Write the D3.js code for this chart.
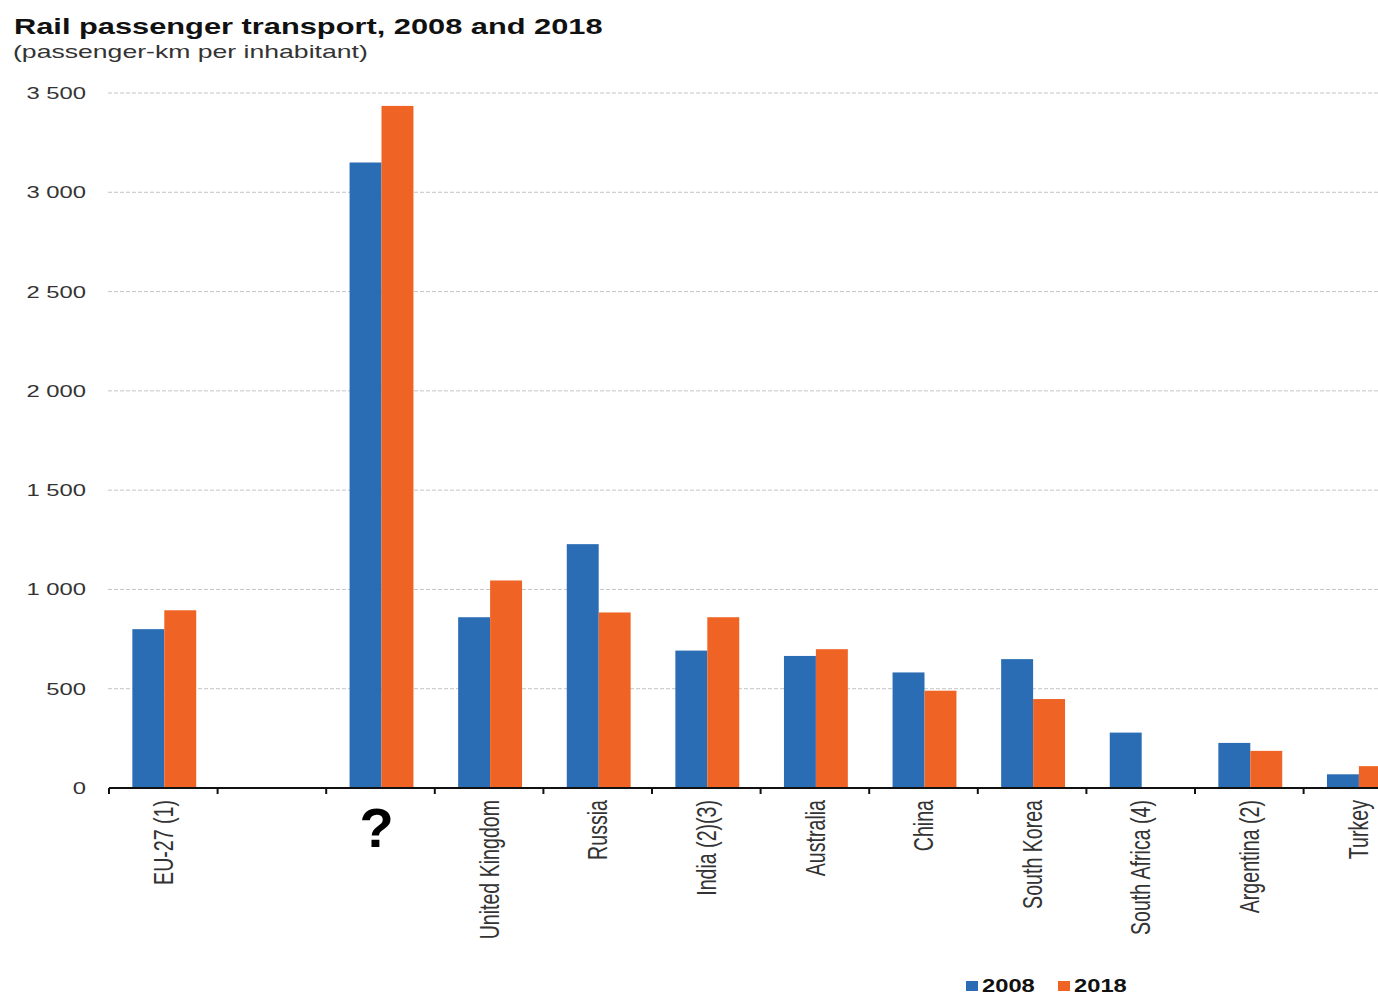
<!DOCTYPE html>
<html>
<head>
<meta charset="utf-8">
<script src="https://cdn.jsdelivr.net/npm/d3@7"></script>
<style>
    body { margin: 0; background: #fff; }
    text { font-family: "Liberation Sans", Arial, sans-serif; fill: #222; }
</style>
</head>
<body>
<div id="app"></div>
<script>
const categories = ["EU-27 (1)", "", "?", "United Kingdom", "Russia", "India (2)(3)", "Australia",
    "China", "South Korea", "South Africa (4)", "Argentina (2)", "Turkey"];
const series = ["2008", "2018"];
const values2008 = [800, null, 3150, 860, 1228, 692, 665, 582, 649, 279, 227, 69];
const values2018 = [895, null, 3435, 1045, 884, 860, 699, 490, 448, null, 187, 110];
const yTicks = [0, 500, 1000, 1500, 2000, 2500, 3000, 3500];
const colors = ["#2a6db4", "#ef6424"];

const W = 1378;
const H = 997;
const stretch = 1.4;

const plotLeft = 109;
const slotW = 108.6;
const plotRight = plotLeft + slotW * categories.length;
const plotTop = 93;
const plotBottom = 788;

const fmt = d3.formatLocale({ decimal: ".", thousands: " ", grouping: [3], currency: ["", ""] }).format(",");

function runApp() {
    const svg = d3.select("#app")
        .append("svg")
        .attr("width", W)
        .attr("height", H)
        .style("display", "block");

    const x0 = d3.scaleBand()
        .domain(categories)
        .range([plotLeft, plotRight])
        .padding(0);

    const x1 = d3.scaleBand()
        .domain(series)
        .range([1, x0.bandwidth() + 1])
        .paddingInner(0)
        .paddingOuter(0.7);

    const y = d3.scaleLinear()
        .domain([0, 3500])
        .range([plotBottom, plotTop]);

    //TITLE
    svg.append("text")
        .attr("transform", "translate(14,34) scale(" + stretch + ",1)")
        .style("font-size", "22px")
        .style("font-weight", "bold")
        .style("fill", "#111")
        .text("Rail passenger transport, 2008 and 2018");
    svg.append("text")
        .attr("transform", "translate(13,58) scale(" + stretch + ",1)")
        .style("font-size", "19px")
        .style("fill", "#333")
        .text("(passenger-km per inhabitant)");

    //GRID + Y LABELS
    svg.selectAll(".grid")
        .data(yTicks.filter(function (t) { return t > 0; }))
        .enter()
        .append("line")
        .attr("class", "grid")
        .attr("x1", plotLeft - 1)
        .attr("x2", W)
        .attr("y1", function (t) { return y(t); })
        .attr("y2", function (t) { return y(t); })
        .style("stroke", "#c4c4c4")
        .style("stroke-width", 1)
        .style("stroke-dasharray", "4,2");

    svg.selectAll(".ylab")
        .data(yTicks)
        .enter()
        .append("text")
        .attr("class", "ylab")
        .attr("transform", function (t) {
            return "translate(86," + y(t) + ") scale(" + stretch + ",1)";
        })
        .attr("dy", "0.35em")
        .attr("text-anchor", "end")
        .style("font-size", "17px")
        .style("fill", "#333")
        .text(function (t) { return fmt(t); });

    //BARS
    const groups = svg.selectAll(".cat")
        .data(categories.map(function (c, i) {
            return { name: c, vals: [values2008[i], values2018[i]] };
        }))
        .enter()
        .append("g")
        .attr("class", "cat")
        .attr("transform", function (d) { return "translate(" + x0(d.name) + ",0)"; });

    groups.selectAll("rect")
        .data(function (d) {
            return series.map(function (s, j) { return { s: s, j: j, v: d.vals[j] }; })
                .filter(function (b) { return b.v != null; });
        })
        .enter()
        .append("rect")
        .attr("x", function (b) { return x1(b.s); })
        .attr("y", function (b) { return y(b.v); })
        .attr("width", x1.bandwidth())
        .attr("height", function (b) { return y(0) - y(b.v); })
        .style("fill", function (b) { return colors[b.j]; });

    //X AXIS
    svg.append("line")
        .attr("x1", plotLeft)
        .attr("x2", W)
        .attr("y1", plotBottom)
        .attr("y2", plotBottom)
        .style("stroke", "#111")
        .style("stroke-width", 2);

    svg.selectAll(".xtick")
        .data(categories.map(function (c) { return x0(c); }))
        .enter()
        .append("line")
        .attr("class", "xtick")
        .attr("x1", function (d) { return d; })
        .attr("x2", function (d) { return d; })
        .attr("y1", plotBottom)
        .attr("y2", plotBottom + 6)
        .style("stroke", "#111")
        .style("stroke-width", 2);

    svg.selectAll(".xlab")
        .data(categories.filter(function (c) { return c !== "" && c !== "?"; }))
        .enter()
        .append("text")
        .attr("class", "xlab")
        .attr("transform", function (c) {
            return "translate(" + (x0(c) + x0.bandwidth() / 2) + ",800) scale(" + stretch + ",1) rotate(-90)";
        })
        .attr("dy", "0.35em")
        .attr("text-anchor", "end")
        .style("font-size", "19.6px")
        .style("fill", "#333")
        .text(function (c) { return c; });

    svg.append("text")
        .attr("x", x0("?") + x0.bandwidth() / 2 - 4)
        .attr("y", 847)
        .attr("text-anchor", "middle")
        .style("font-size", "56px")
        .style("font-weight", "bold")
        .style("fill", "#000")
        .text("?");

    //LEGEND
    const legendX = [966, 1058];
    const legend = svg.selectAll(".leg")
        .data(series)
        .enter()
        .append("g")
        .attr("class", "leg")
        .attr("transform", function (s, i) { return "translate(" + legendX[i] + ",0)"; });
    legend.append("rect")
        .attr("x", 0)
        .attr("y", 981)
        .attr("width", 12)
        .attr("height", 10)
        .style("fill", function (s, i) { return colors[i]; });
    legend.append("text")
        .attr("transform", "translate(16,992) scale(1.25,1)")
        .style("font-size", "19px")
        .style("font-weight", "bold")
        .style("fill", "#111")
        .text(function (s) { return s; });
}

runApp();
</script>
</body>
</html>
